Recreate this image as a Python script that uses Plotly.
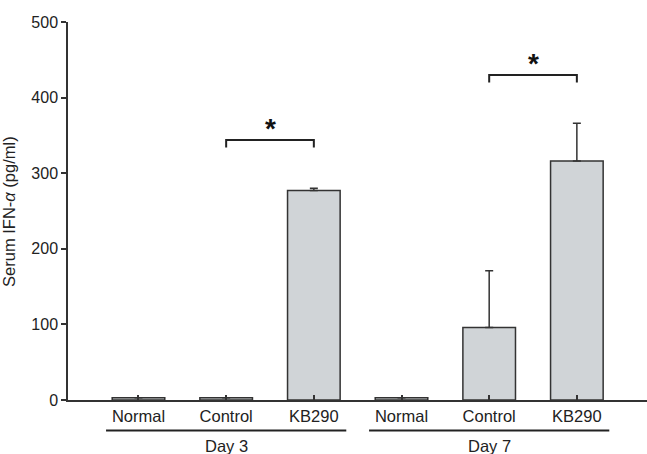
import plotly.graph_objects as go

categories = ["Normal", "Control", "KB290", "Normal", "Control", "KB290"]
groups = ["Day 3", "Day 7"]
values = [3, 3, 277, 3, 96, 316]
errors = [0, 0, 3, 0, 75, 50]
y_ticks = [0, 100, 200, 300, 400, 500]
sig_pairs = [(1, 2), (4, 5)]
sig_labels = ["*", "*"]

pos = list(range(len(categories)))
line_col = "#333333"
font = "Arial, Liberation Sans, Helvetica, sans-serif"

fig = go.Figure()
fig.add_trace(go.Bar(
    x=pos, y=values, width=0.6,
    marker=dict(color="#d0d4d7", line=dict(color=line_col, width=1.5)),
    error_y=dict(type="data", symmetric=False, array=errors,
                 arrayminus=[0] * len(errors), color=line_col,
                 thickness=1.5, width=4),
    showlegend=False,
))

shapes = []
annotations = []
for (a, b), lab in zip(sig_pairs, sig_labels):
    top = max(values[a] + errors[a], values[b] + errors[b])
    yb = top + 64
    shapes.append(dict(type="path", xref="x", yref="y",
                       path=f"M {pos[a]},{yb-10} L {pos[a]},{yb} L {pos[b]},{yb} L {pos[b]},{yb-10}",
                       line=dict(color="#222", width=2)))
    annotations.append(dict(x=(pos[a] + pos[b]) / 2, y=yb - 8, xref="x", yref="y",
                            text=f"<b>{lab}</b>", showarrow=False, yanchor="bottom",
                            font=dict(size=28, color="#111", family=font)))

for gi, g in enumerate(groups):
    c = gi * 3 + 1
    shapes.append(dict(type="line", xref="x", yref="paper",
                       x0=c - 1.37, x1=c + 1.37, y0=-0.081, y1=-0.081,
                       line=dict(color="#222", width=2)))
    annotations.append(dict(x=c, y=-0.092, xref="x", yref="paper", text=g,
                            showarrow=False, yanchor="top",
                            font=dict(size=16.5, color="#222", family=font)))

annotations.append(dict(x=-0.102, y=0.5, xref="paper", yref="paper",
                        text="Serum IFN-<i>α</i> (pg/ml)", textangle=-90,
                        showarrow=False, xanchor="center", yanchor="middle",
                        font=dict(size=16.5, color="#222", family=font)))

fig.update_layout(
    width=647, height=454,
    margin=dict(l=68, r=0, t=22, b=54),
    plot_bgcolor="white", paper_bgcolor="white",
    font=dict(family=font, size=16, color="#222"),
    shapes=shapes, annotations=annotations,
    xaxis=dict(range=[-0.804, 5.8], tickvals=pos, ticktext=categories,
               showline=True, linecolor=line_col, linewidth=1.5,
               ticks="inside", ticklen=5, tickcolor=line_col, tickwidth=1.5,
               showgrid=False, zeroline=False, fixedrange=True,
               tickfont=dict(size=16.5, color="#222")),
    yaxis=dict(range=[0, 500], tickvals=y_ticks,
               showline=True, linecolor=line_col, linewidth=1.5,
               ticks="outside", ticklen=5, tickcolor=line_col, tickwidth=1.5,
               showgrid=False, zeroline=False, fixedrange=True,
               tickfont=dict(size=16, color="#222")),
)
fig.write_html("out.html")
